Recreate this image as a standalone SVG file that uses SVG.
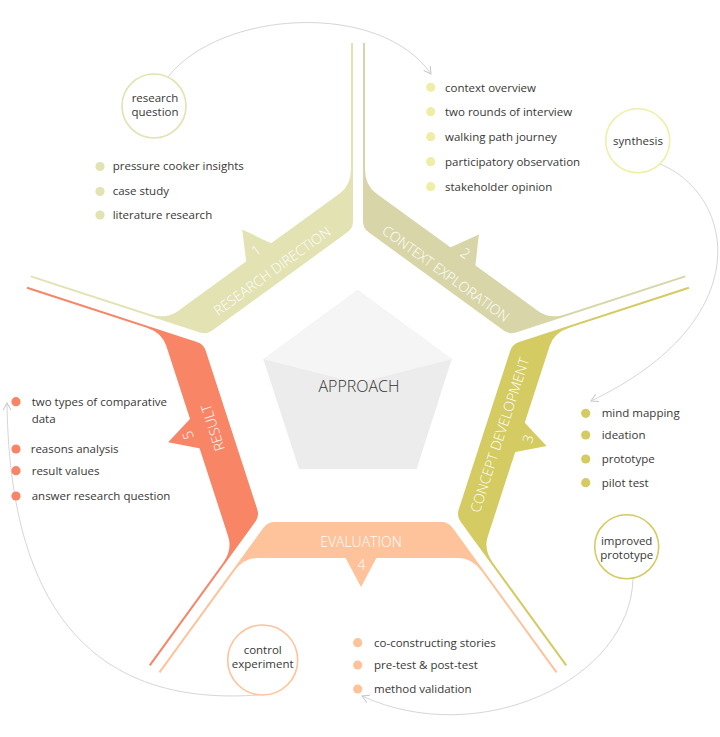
<svg xmlns="http://www.w3.org/2000/svg" xmlns:xlink="http://www.w3.org/1999/xlink" width="720" height="737" viewBox="0 0 720 737">
<style>
.b1{fill:#e2e2b3}.b2{fill:#d8d6a8}.b3{fill:#d4cb62}.b4{fill:#fec39b}.b5{fill:#f78566}
.bt{font-family:"Open Sans","Liberation Sans",sans-serif;font-weight:300;font-size:14px;fill:#ffffff;text-anchor:middle}
.lt{font-family:"Open Sans","Liberation Sans",sans-serif;font-size:11.5px;fill:#383838}
.ct{font-family:"Open Sans","Liberation Sans",sans-serif;font-size:11.5px;fill:#383838;text-anchor:middle}
.node{fill:#ffffff;stroke-width:1.6}
.con{fill:none;stroke:#d6d6d6;stroke-width:1}
</style>
<defs>
<path id="band" d="M-83.45,133 L83.45,133 Q90.45,133 94.56,138.66 L199.33,282.86 L197.71,284.03 L123.54,181.95 Q114.13,169 100.13,169 L-100.13,169 Q-114.13,169 -123.54,181.95 L-197.71,284.03 L-199.33,282.86 L-94.56,138.66 Q-90.45,133 -83.45,133 Z"/>
<marker id="arr" markerWidth="12" markerHeight="12" refX="10" refY="6" orient="auto" markerUnits="userSpaceOnUse">
<path d="M3,2 L10,6 L3,10" fill="none" stroke="#c8c8c8" stroke-width="1"/>
</marker>
</defs>
<rect width="720" height="737" fill="#ffffff"/>

<g id="connectors">
<path class="con" d="M168,77 C220,10 380,0 431,74" marker-end="url(#arr)"/>
<path class="con" d="M660,164 C735,195 760,320 591,401" marker-end="url(#arr)"/>
<path class="con" d="M633,579 C630,680 480,750 362,696" marker-end="url(#arr)"/>
<path class="con" d="M258,695 C120,705 10,640 7,403" marker-end="url(#arr)"/>
</g>

<g id="approach">
<polygon points="357.7,290 451.7,359.3 416.7,469 299,469 263.3,359.3" fill="#ececec"/>
<polygon points="357.7,290 451.7,359.3 357.7,383 263.3,359.3" fill="#f5f5f5"/>
<text x="359" y="391.5" font-family="'Open Sans','Liberation Sans',sans-serif" font-weight="300" font-size="16" fill="#333" text-anchor="middle">APPROACH</text>
</g>

<g id="band-1">
<use xlink:href="#band" class="b1" transform="translate(358,389) rotate(144)"/>
<polygon class="b1" points="-16.5,167 0,197 16.5,167" transform="translate(358,389) rotate(144)"/>
<text class="bt" transform="translate(272.2,270.9) rotate(-36)" y="5">RESEARCH DIRECTION</text>
<text class="bt" transform="translate(256.1,250.4) rotate(-36)" y="5">1</text>
</g>

<g id="band-2">
<use xlink:href="#band" class="b2" transform="translate(358,389) rotate(-144)"/>
<polygon class="b2" points="-23.5,167 -7,196 9.5,167" transform="translate(358,389) rotate(-144)"/>
<text class="bt" transform="translate(445.7,273.5) rotate(36)" y="5">CONTEXT EXPLORATION</text>
<text class="bt" transform="translate(465.4,253.2) rotate(36)" y="5">2</text>
</g>

<g id="band-3">
<use xlink:href="#band" class="b3" transform="translate(358,389) rotate(-72)"/>
<polygon class="b3" points="-12.5,167 4,197 20.5,167" transform="translate(358,389) rotate(-72)"/>
<text class="bt" transform="translate(499.7,435) rotate(-72)" y="5">CONCEPT DEVELOPMENT</text>
<text class="bt" transform="translate(527.9,438.9) rotate(-72)" y="5">3</text>
</g>

<g id="band-4">
<use xlink:href="#band" class="b4" transform="translate(358,389)"/>
<polygon class="b4" points="-13.5,167 3,198 19.5,167" transform="translate(358,389)"/>
<text class="bt" x="361" y="546.5">EVALUATION</text>
<text class="bt" x="361.5" y="570">4</text>
</g>

<g id="band-5">
<use xlink:href="#band" class="b5" transform="translate(358,389) rotate(72)"/>
<polygon class="b5" points="-24.5,167 -8,197 8.5,167" transform="translate(358,389) rotate(72)"/>
<text class="bt" transform="translate(212.9,427.7) rotate(-108)" y="5">RESULT</text>
<text class="bt" transform="translate(188,435.3) rotate(-108)" y="5">5</text>
</g>

<g id="list-1">
<circle cx="100" cy="166.5" r="4.6" fill="#e2e2b3"/>
<circle cx="100" cy="191.5" r="4.6" fill="#e2e2b3"/>
<circle cx="100" cy="215" r="4.6" fill="#e2e2b3"/>
<text class="lt" x="112.7" y="170">pressure cooker insights</text>
<text class="lt" x="112.7" y="195">case study</text>
<text class="lt" x="112.7" y="219">literature research</text>
</g>

<g id="list-2">
<circle cx="430.7" cy="87.3" r="4.6" fill="#eeeea6"/>
<circle cx="430.7" cy="111.7" r="4.6" fill="#eeeea6"/>
<circle cx="430.7" cy="136.7" r="4.6" fill="#eeeea6"/>
<circle cx="430.7" cy="161.7" r="4.6" fill="#eeeea6"/>
<circle cx="430.7" cy="186.7" r="4.6" fill="#eeeea6"/>
<text class="lt" x="445" y="91.5">context overview</text>
<text class="lt" x="445" y="115.8">two rounds of interview</text>
<text class="lt" x="445" y="140.8">walking path journey</text>
<text class="lt" x="445" y="165.8">participatory observation</text>
<text class="lt" x="445" y="190.8">stakeholder opinion</text>
</g>

<g id="list-3">
<circle cx="585.7" cy="413.3" r="4.6" fill="#d4cb62"/>
<circle cx="585.7" cy="435" r="4.6" fill="#d4cb62"/>
<circle cx="585.7" cy="459" r="4.6" fill="#d4cb62"/>
<circle cx="585.7" cy="482.7" r="4.6" fill="#d4cb62"/>
<text class="lt" x="601.7" y="417.3">mind mapping</text>
<text class="lt" x="601.7" y="439">ideation</text>
<text class="lt" x="601.7" y="463">prototype</text>
<text class="lt" x="601.7" y="486.7">pilot test</text>
</g>

<g id="list-4">
<circle cx="357.7" cy="642.7" r="4.6" fill="#fec39b"/>
<circle cx="357.7" cy="665" r="4.6" fill="#fec39b"/>
<circle cx="357.7" cy="689" r="4.6" fill="#fec39b"/>
<text class="lt" x="374" y="646.5">co-constructing stories</text>
<text class="lt" x="374" y="669">pre-test &amp; post-test</text>
<text class="lt" x="374" y="693">method validation</text>
</g>

<g id="list-5">
<circle cx="16" cy="401.7" r="4.6" fill="#f78566"/>
<circle cx="16" cy="449" r="4.6" fill="#f78566"/>
<circle cx="16" cy="470.7" r="4.6" fill="#f78566"/>
<circle cx="16" cy="496" r="4.6" fill="#f78566"/>
<text class="lt" x="31.7" y="406">two types of comparative</text>
<text class="lt" x="31.7" y="422.5">data</text>
<text class="lt" x="30.7" y="452.5">reasons analysis</text>
<text class="lt" x="31.7" y="475">result values</text>
<text class="lt" x="31.7" y="499.5">answer research question</text>
</g>

<g id="node-research-question">
<circle class="node" cx="154" cy="106" r="32" stroke="#e2e2b3"/>
<text class="ct" x="155" y="101.5">research</text>
<text class="ct" x="155" y="115.5">question</text>
</g>

<g id="node-synthesis">
<circle class="node" cx="637.7" cy="140.7" r="32" stroke="#efefa8"/>
<text class="ct" x="638" y="144.5">synthesis</text>
</g>

<g id="node-improved-prototype">
<circle class="node" cx="626.7" cy="546.7" r="32" stroke="#d4cb62"/>
<text class="ct" x="626.7" y="545">improved</text>
<text class="ct" x="626.7" y="559">prototype</text>
</g>

<g id="node-control-experiment">
<circle class="node" cx="262.7" cy="660" r="35" stroke="#fec39b"/>
<text class="ct" x="262.7" y="654">control</text>
<text class="ct" x="262.7" y="668.3">experiment</text>
</g>
</svg>
